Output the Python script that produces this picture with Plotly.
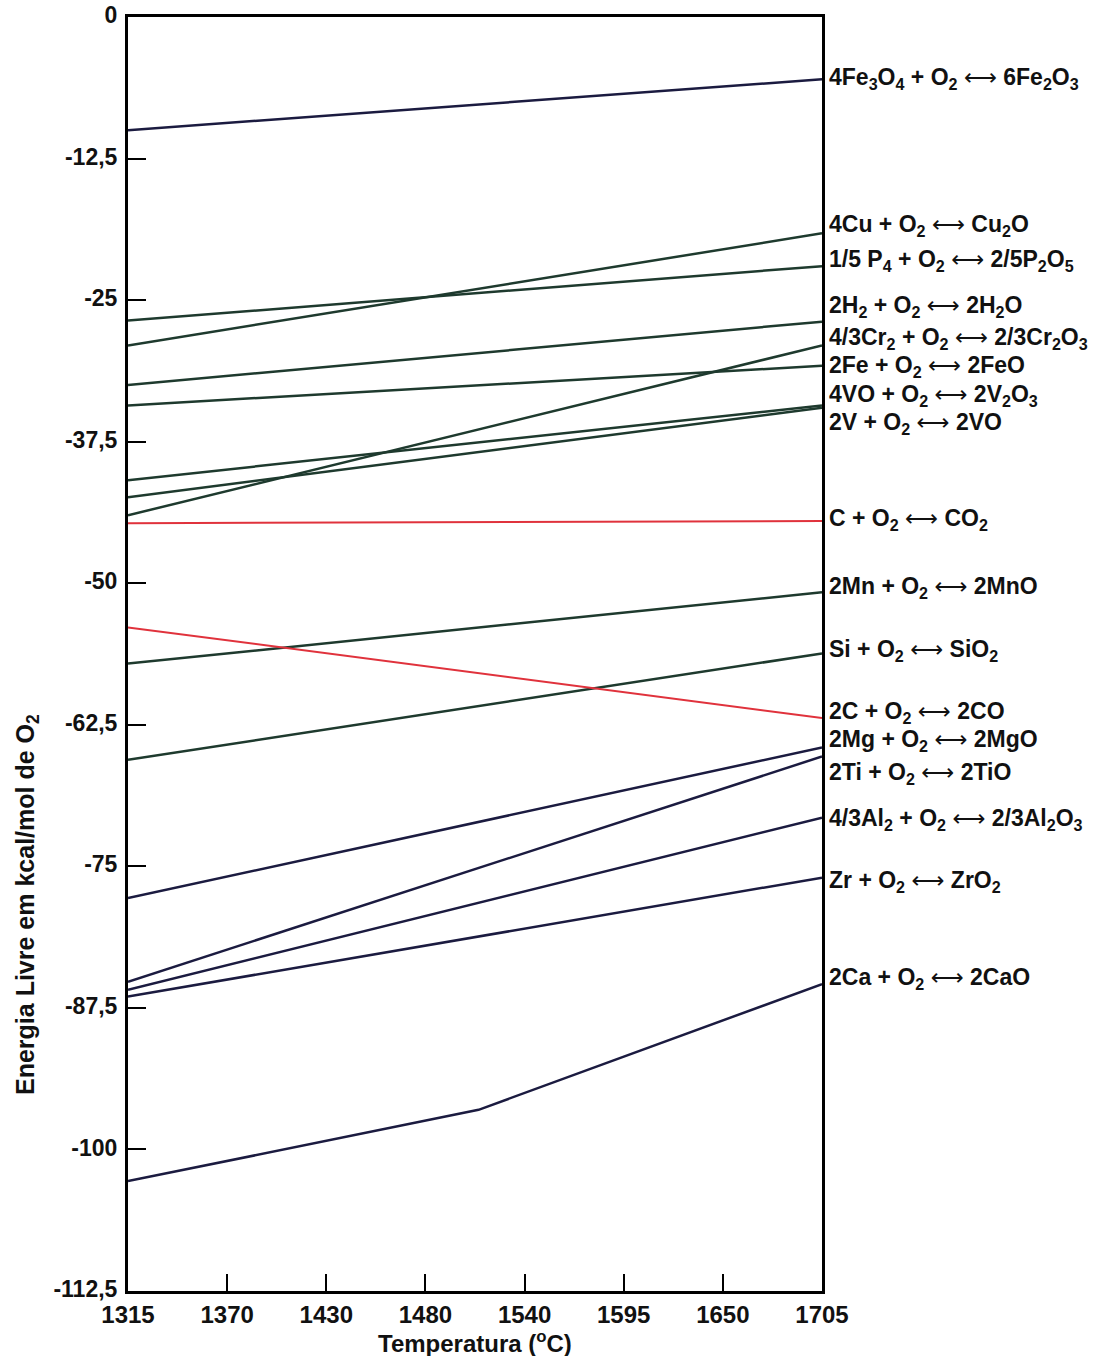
import plotly.graph_objects as go

# Temperature span of the diagram (°C)
temps = [1315, 1705]

# Double arrow drawn in a font that has a long, thin glyph for it
ARROW = '<span style="font-family:DejaVu Sans;font-weight:normal">⟷</span>'

# Oxidation reactions, labelled at the right-hand edge
reactions = [
    "4Fe<sub>3</sub>O<sub>4</sub> + O<sub>2</sub> {a} 6Fe<sub>2</sub>O<sub>3</sub>",
    "4Cu + O<sub>2</sub> {a} Cu<sub>2</sub>O",
    "1/5 P<sub>4</sub> + O<sub>2</sub> {a} 2/5P<sub>2</sub>O<sub>5</sub>",
    "2H<sub>2</sub> + O<sub>2</sub> {a} 2H<sub>2</sub>O",
    "4/3Cr<sub>2</sub> + O<sub>2</sub> {a} 2/3Cr<sub>2</sub>O<sub>3</sub>",
    "2Fe + O<sub>2</sub> {a} 2FeO",
    "4VO + O<sub>2</sub> {a} 2V<sub>2</sub>O<sub>3</sub>",
    "2V + O<sub>2</sub> {a} 2VO",
    "C + O<sub>2</sub> {a} CO<sub>2</sub>",
    "2Mn + O<sub>2</sub> {a} 2MnO",
    "Si + O<sub>2</sub> {a} SiO<sub>2</sub>",
    "2C + O<sub>2</sub> {a} 2CO",
    "2Mg + O<sub>2</sub> {a} 2MgO",
    "2Ti + O<sub>2</sub> {a} 2TiO",
    "4/3Al<sub>2</sub> + O<sub>2</sub> {a} 2/3Al<sub>2</sub>O<sub>3</sub>",
    "Zr + O<sub>2</sub> {a} ZrO<sub>2</sub>",
    "2Ca + O<sub>2</sub> {a} 2CaO",
]

# Free energy (kcal/mol O2) at 1315 °C and at 1705 °C
dg_1315 = [-10.0, -29.0, -26.8, -32.5, -44.0, -34.3, -40.9, -42.4, -44.7,
           -57.1, -65.6, -53.9, -77.8, -85.2, -85.9, -86.5, -102.8]
dg_1705 = [-5.5, -19.1, -22.0, -26.9, -29.0, -30.8, -34.3, -34.5, -44.5,
           -50.8, -56.2, -61.9, -64.5, -65.3, -70.7, -76.0, -85.4]

# The calcium line changes slope part way along
ca_break_temp = 1512
ca_break_dg = -96.5

# Vertical position of each reaction label (kcal/mol O2)
label_y = [-5.4, -18.4, -21.5, -25.6, -28.4, -30.9, -33.4, -35.9, -44.4,
           -50.4, -55.9, -61.4, -63.9, -66.8, -70.9, -76.3, -84.9]

# Axis ticks
y_ticks = [0, -12.5, -25, -37.5, -50, -62.5, -75, -87.5, -100, -112.5]
y_ticktext = ["0", "-12,5", "-25", "-37,5", "-50", "-62,5", "-75", "-87,5", "-100", "-112,5"]
x_ticktext = ["1315", "1370", "1430", "1480", "1540", "1595", "1650", "1705"]

NAVY = "#1b1b40"
GREEN = "#1e3a2e"
RED = "#e0323c"
line_colors = [NAVY, GREEN, GREEN, GREEN, GREEN, GREEN, GREEN, GREEN, RED,
               GREEN, GREEN, RED, NAVY, NAVY, NAVY, NAVY, NAVY]

FONT = "Liberation Sans, Arial, Helvetica, sans-serif"
TITLE_FONT = dict(family=FONT, color="#111111", weight="bold")

fig = go.Figure()

for i, name in enumerate(reactions):
    xs = list(temps)
    ys = [dg_1315[i], dg_1705[i]]
    if name.startswith("2Ca"):
        xs = [temps[0], ca_break_temp, temps[1]]
        ys = [dg_1315[i], ca_break_dg, dg_1705[i]]
    is_red = line_colors[i] == RED
    fig.add_trace(go.Scatter(
        x=xs, y=ys, mode="lines", name=name.format(a="↔"), showlegend=False,
        line=dict(color=line_colors[i], width=2 if is_red else 2.5),
        hoverinfo="skip",
    ))
    fig.add_annotation(
        x=1, xref="paper", y=label_y[i], yref="y",
        text=name.format(a=ARROW), showarrow=False, xanchor="left", yanchor="middle",
        xshift=5, font=dict(family=FONT, size=23, color="#111111", weight="bold"),
    )

# Evenly spaced temperature ticks across the span
n = len(x_ticktext)
x_tickvals = [temps[0] + k * (temps[1] - temps[0]) / (n - 1) for k in range(n)]

# Axis titles
fig.add_annotation(
    x=-0.1455, xref="paper", y=0.303, yref="paper",
    text="Energia Livre em kcal/mol de O<sub>2</sub>", textangle=-90,
    showarrow=False, xanchor="center", yanchor="middle",
    font=dict(size=25, **TITLE_FONT),
)
fig.add_annotation(
    x=0.5, xref="paper", y=-0.040, yref="paper",
    text="Temperatura (<sup>o</sup>C)",
    showarrow=False, xanchor="center", yanchor="middle",
    font=dict(size=24, **TITLE_FONT),
)

fig.update_layout(
    width=1095, height=1356,
    margin=dict(l=128, r=273, t=17, b=65),
    plot_bgcolor="white", paper_bgcolor="white",
    font=dict(family=FONT, color="#111111"),
    xaxis=dict(
        range=temps, tickvals=x_tickvals, ticktext=x_ticktext,
        ticks="inside", ticklen=17, tickwidth=2, tickcolor="black",
        showline=True, linecolor="black", linewidth=3, mirror=True,
        showgrid=False, zeroline=False, ticklabelstandoff=0, automargin=False,
        tickfont=dict(size=24, weight="bold", family=FONT),
    ),
    yaxis=dict(
        range=[-112.5, 0], tickvals=y_ticks, ticktext=y_ticktext,
        ticks="inside", ticklen=18, tickwidth=2, tickcolor="black",
        showline=True, linecolor="black", linewidth=3, mirror=True,
        showgrid=False, zeroline=False, ticklabelstandoff=3, ticklabelshift=-2,
        ticklabeloverflow="allow", automargin=False,
        tickfont=dict(size=23, weight="bold", family=FONT),
    ),
)

fig.write_html("out.html")
